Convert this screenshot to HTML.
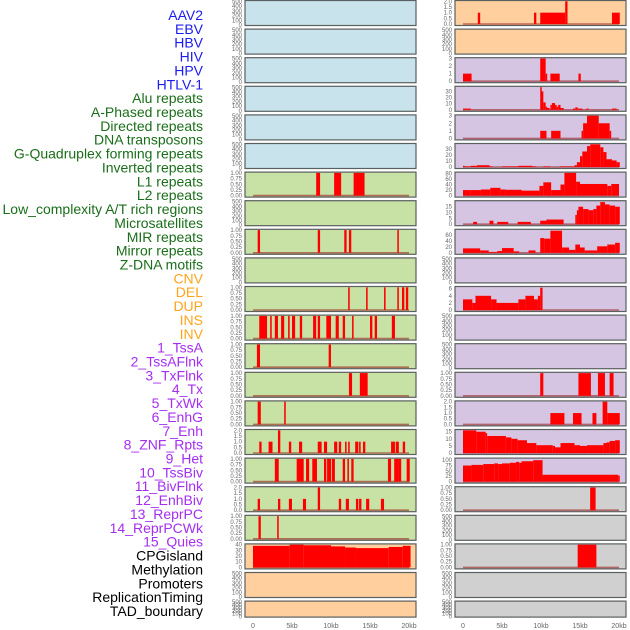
<!DOCTYPE html>
<html><head><meta charset="utf-8">
<style>
html,body{margin:0;padding:0;background:#fff;width:630px;height:630px;overflow:hidden}
svg{display:block;font-family:"Liberation Sans",sans-serif}
</style></head>
<body>
<svg id="chart" width="630" height="630" viewBox="0 0 630 630"></svg>
<script>
// ---- category labels ----
const labelNames = ["AAV2","EBV","HBV","HIV","HPV","HTLV-1","Alu repeats","A-Phased repeats","Directed repeats","DNA transposons","G-Quadruplex forming repeats","Inverted repeats","L1 repeats","L2 repeats","Low_complexity A/T rich regions","Microsatellites","MIR repeats","Mirror repeats","Z-DNA motifs","CNV","DEL","DUP","INS","INV","1_TssA","2_TssAFlnk","3_TxFlnk","4_Tx","5_TxWk","6_EnhG","7_Enh","8_ZNF_Rpts","9_Het","10_TssBiv","11_BivFlnk","12_EnhBiv","13_ReprPC","14_ReprPCWk","15_Quies","CPGisland","Methylation","Promoters","ReplicationTiming","TAD_boundary"];
const labelGroups = [0,0,0,0,0,0,1,1,1,1,1,1,1,1,1,1,1,1,1,2,2,2,2,2,3,3,3,3,3,3,3,3,3,3,3,3,3,3,3,4,4,4,4,4];
const groupColors = ["#1c1cf0","#1a6e1a","#ffa41c","#a52ef0","#000000"];
const xTicks = [0,5,10,15,20];
const xTickLabels = ["0","5kb","10kb","15kb","20kb"];

// tick label sets
const T_E = [0,100,200,300,400,500];
const T_U = [0,0.25,0.5,0.75,1];
const T_2 = [0,0.5,1,1.5,2];

// ---- left column data: [startKb, endKb, value] ----
const L6 = [[8.1,8.6,1],[10.4,11.3,1],[12.9,14.3,1]];
const L8 = [[0.6,0.9,1],[8.3,8.6,1],[11.7,12.0,1],[12.3,12.6,1],[18.5,18.7,1]];
const L10 = [[12.2,12.4,1],[14.5,14.7,1],[16.8,17.0,1],[18.5,18.7,1],[19.1,19.4,1],[19.6,19.9,1]];
const L11 = [[0.8,1.8,1],[2.2,2.4,1],[2.8,3.2,1],[3.6,4.0,1],[4.5,4.7,1],[5.0,5.4,1],[6.0,6.3,1],[7.7,8.1,1],[8.3,8.6,1],[9.4,10.0,1],[10.6,11.0,1],[11.5,11.8,1],[12.7,12.9,1],[15.0,15.3,1],[15.6,15.9,1],[17.8,18.2,1]];
const L12 = [[0.5,0.9,1],[9.7,10.0,1]];
const L13 = [[12.3,12.7,1],[13.7,14.7,1]];
const L14 = [[0.6,1.0,1],[4.0,4.2,1]];
const L15 = [[0.8,1.1,1],[2.0,2.5,1],[3.2,3.5,2],[4.6,4.9,1],[5.9,6.3,1],[8.3,8.8,1],[9.1,9.5,1],[10.4,10.8,1],[11.0,11.3,1],[11.8,12.0,1],[12.2,12.4,1],[13.1,13.5,1],[13.6,13.8,1],[14.1,14.4,1],[17.7,18.2,1],[18.3,18.7,1],[19.2,19.5,1]];
const L16 = [[2.8,3.3,1],[5.6,6.5,1],[6.8,7.2,1],[7.6,8.2,1],[9.1,9.4,1],[9.5,10.0,1],[10.1,10.5,1],[11.5,11.8,1],[12.1,12.3,1],[12.6,12.9,1],[17.3,17.7,1],[18.1,18.6,1],[18.6,19.0,1],[19.7,20.1,1]];
const L17 = [[0.6,0.9,1],[3.2,3.5,1],[4.6,5.0,1],[6.4,6.8,1],[8.3,8.6,2],[11.0,11.3,1],[11.9,12.3,1],[13.2,13.5,1],[13.6,13.9,1],[14.5,14.9,1],[16.4,16.8,1]];
const L18 = [[0.7,1.0,1],[3.1,3.3,1]];
const L19 = [[0,4.7,38],[4.7,6.5,40],[6.5,10,39],[10,11.8,37],[11.8,13.2,35],[13.2,17.4,34],[17.4,19.2,36],[19.2,20.2,38]];

// ---- right column data ----
const R0 = [[1.9,2.2,1],[9.1,9.4,1],[9.9,13.1,1],[13.1,13.4,2],[13.4,13.3,1],[19.1,20.1,1]];
const R2 = [[0,1.1,1],[9.9,10.6,3],[10.6,10.8,1],[11.2,12.4,1],[14.8,15.1,1]];
const R3 = [[0,1.0,2],[9.9,10.0,37],[10.0,10.3,30],[10.3,10.6,12],[10.6,10.7,5],[10.7,11.1,3],[11.2,11.4,8],[11.4,11.8,11],[11.8,12.0,8],[12.0,12.2,5],[12.2,12.5,8],[12.5,12.9,3],[14.1,14.4,2],[14.4,14.7,4],[14.7,15.3,2],[15.8,16.1,2],[19.1,19.7,2]];
const R4 = [[9.9,10.7,1],[11.3,12.5,1],[15.2,15.4,1],[15.4,15.9,2],[15.9,17.4,3],[17.4,18.8,2],[18.8,19.0,1]];
const R5 = [[0,0.2,2],[0.2,1.0,1],[1.0,1.8,2],[1.8,3.4,3],[3.4,3.8,1],[5.0,7.1,1],[7.1,8.9,2],[8.9,9.4,1],[10.3,11.2,1],[12.4,14.3,1],[14.3,14.6,3],[14.6,15.0,8],[15.0,15.3,18],[15.3,15.9,26],[15.9,16.3,35],[16.3,17.6,38],[17.6,18.0,33],[18.0,18.4,25],[18.4,19.1,13],[19.1,19.7,11],[19.7,20.1,8]];
const R6 = [[0,1.0,20],[1.0,2.3,20],[2.3,3.5,22],[3.5,4.8,28],[4.8,5.5,22],[5.5,7.5,21],[7.5,9.8,18],[9.8,10.3,35],[10.3,11.3,48],[11.3,12.5,20],[12.5,13.0,40],[13.0,14.5,82],[14.5,15.0,50],[15.0,18.5,42],[18.5,19.0,35],[19.0,20.0,42]];
const R7 = [[1.3,1.8,2],[3.4,3.9,3],[4.4,5.8,2],[7.0,8.7,2],[9.9,10.7,3],[10.7,12.9,4],[14.4,14.6,8],[14.6,14.8,12],[14.8,15.4,15],[15.4,16.1,13],[16.1,16.7,12],[16.7,17.1,13],[17.1,17.6,16],[17.6,18.2,19],[18.2,18.8,17],[18.8,19.5,16],[19.5,20.1,15]];
const R8 = [[0,2.2,15],[2.2,3.3,8],[3.3,4.4,3],[4.4,5.0,6],[5.0,6.5,16],[6.5,7.2,5],[8.4,9.3,8],[9.9,10.4,50],[10.4,11.2,48],[11.2,12.7,75],[12.7,13.6,18],[13.6,14.4,10],[14.4,15.0,28],[15.0,15.6,18],[15.6,17.2,8],[17.2,18.5,22],[18.5,19.5,28],[19.5,20.1,34]];
const R10 = [[0,1.2,3],[1.2,1.6,2],[1.6,3.6,4],[3.6,4.3,3],[4.3,7.1,2],[7.1,8.0,3],[8.0,9.1,4],[9.1,9.6,3],[9.6,9.9,4],[9.9,10.2,6.3]];
const R13 = [[9.9,10.3,1],[14.8,16.4,1],[17.3,18.2,1],[18.8,19.3,1]];
const R14 = [[11.2,13.0,1],[14.1,15.2,1],[16.6,17.1,1],[17.9,18.5,2],[18.5,19.1,1],[19.1,20.1,1]];
const R15 = [[0,1.7,16],[1.7,2.9,15],[2.9,3.1,14],[3.1,5.5,12],[5.5,6.2,11],[6.2,7.0,10],[7.0,8.2,9],[8.2,9.4,7],[9.4,11.5,5.5],[11.5,11.8,5],[11.8,12.5,4],[12.5,14.3,7],[14.3,15.0,5.5],[15.0,15.9,5],[15.9,18.0,5.5],[18.0,18.4,7],[18.4,18.8,7.5],[18.8,19.5,8.5],[19.5,20.1,9]];
const R16 = [[0,1.1,75],[1.1,2.6,78],[2.6,4.0,82],[4.0,4.5,85],[4.5,5.0,82],[5.0,6.0,85],[6.0,6.8,88],[6.8,7.2,92],[7.2,7.5,88],[7.5,9.0,95],[9.0,10.2,100],[10.2,19.9,32],[19.9,20.1,28]];
const R17 = [[16.3,17.0,1]];
const R19 = [[14.7,17.1,1]];

const BLUE="#c8e3ec", GREEN="#c8e1a4", ORANGE="#ffcf9e", PURPLE="#d5c5e2", GRAY="#d0d0d0";
// panel configs: [bg, ymax, ticks, data]
const leftPanels = [
 [BLUE,500,T_E,null],[BLUE,500,T_E,null],[BLUE,500,T_E,null],[BLUE,500,T_E,null],[BLUE,500,T_E,null],[BLUE,500,T_E,null],
 [GREEN,1,T_U,L6],[GREEN,500,T_E,null],[GREEN,1,T_U,L8],[GREEN,500,T_E,null],[GREEN,1,T_U,L10],[GREEN,1,T_U,L11],
 [GREEN,1,T_U,L12],[GREEN,1,T_U,L13],[GREEN,1,T_U,L14],[GREEN,2,T_2,L15],[GREEN,1,T_U,L16],[GREEN,2,T_2,L17],[GREEN,1,T_U,L18],
 [ORANGE,40,[0,10,20,30,40],L19],[ORANGE,500,T_E,null],[ORANGE,500,T_E,null]
];
const rightPanels = [
 [ORANGE,2,T_2,R0],[ORANGE,500,T_E,null],
 [PURPLE,3,[0,1,2,3],R2],[PURPLE,37,[0,10,20,30],R3],[PURPLE,3,[0,1,2,3],R4],[PURPLE,38,[0,10,20,30],R5],
 [PURPLE,82,[0,20,40,60,80],R6],[PURPLE,19.5,[0,5,10,15],R7],[PURPLE,77,[0,20,40,60],R8],[PURPLE,500,T_E,null],
 [PURPLE,6.4,[0,2,4,6],R10],[PURPLE,500,T_E,null],[PURPLE,500,T_E,null],[PURPLE,1,T_U,R13],[PURPLE,2,T_2,R14],
 [PURPLE,16,[0,5,10,15],R15],[PURPLE,106,[0,25,50,75,100],R16],[GRAY,1,T_U,R17],[GRAY,500,T_E,null],[GRAY,1,T_U,R19],
 [GRAY,500,T_E,null],[GRAY,500,T_E,null]
];

const NS="http://www.w3.org/2000/svg";
const svg=document.getElementById('chart');
function mk(tag,attrs,parent){const e=document.createElementNS(NS,tag);for(const k in attrs)e.setAttribute(k,attrs[k]);(parent||svg).appendChild(e);return e;}

// labels
labelNames.forEach((name,i)=>{
  const t=mk('text',{x:203,y:20+i*13.86,'text-anchor':'end','font-size':'14',fill:groupColors[labelGroups[i]]});
  t.textContent=name;
  
  
});

function fmt(v,ticks){
  const mx=ticks[ticks.length-1];
  if(mx===1) return v.toFixed(2);
  if(mx===2) return v.toFixed(1);
  return String(v);
}

function drawColumn(panels,left,zeroX,colName){
  const right=left+171;
  const xs=kb=>zeroX+kb*7.8;
  panels.forEach((p,i)=>{
    const [bg,ymax,ticks,data]=p;
    const top=0.5+i*28.6, h=(i===21)?16:25;
    const g=mk('g',{});
    
    
    const r=mk('rect',{x:left,y:top,width:171,height:h,fill:bg,stroke:'#5a5f5f','stroke-width':1.2},g);
    
    
    const y0=top+h-1.5, y1=top+0.8;
    const ys=v=>y0-(v/ymax)*(y0-y1);
    const tickY=v=> data? ys(v) : (top+h-0.5-(v/ymax)*(h-1.5));
    ticks.forEach(v=>{
      const t=mk('text',{x:left-3,y:tickY(v)+2,'text-anchor':'end','font-size':'6',fill:'#666'},g);
      t.textContent=fmt(v,ticks);
      
      
    });
    if(data){
      const bl=mk('line',{x1:xs(0),x2:xs(20),y1:y0,y2:y0,stroke:'rgba(150,20,20,0.55)','stroke-width':1.6},g);
      
      
      data.forEach(d=>{
        const [s,e,v]=d;
        if(e<=s) return;
        const b=mk('rect',{x:xs(s),y:ys(v),width:Math.max(xs(e)-xs(s),1.5),height:y0-ys(v),fill:'#ff0000'},g);
        
        
      });
    }
  });
  xTicks.forEach((v,j)=>{
    const t=mk('text',{x:xs(v),y:628,'text-anchor':'middle','font-size':'7',fill:'#666'});
    t.textContent=xTickLabels[j];
    
    
  });
}
drawColumn(leftPanels,245,253,'left');
drawColumn(rightPanels,455,463,'right');
</script>
</body></html>
